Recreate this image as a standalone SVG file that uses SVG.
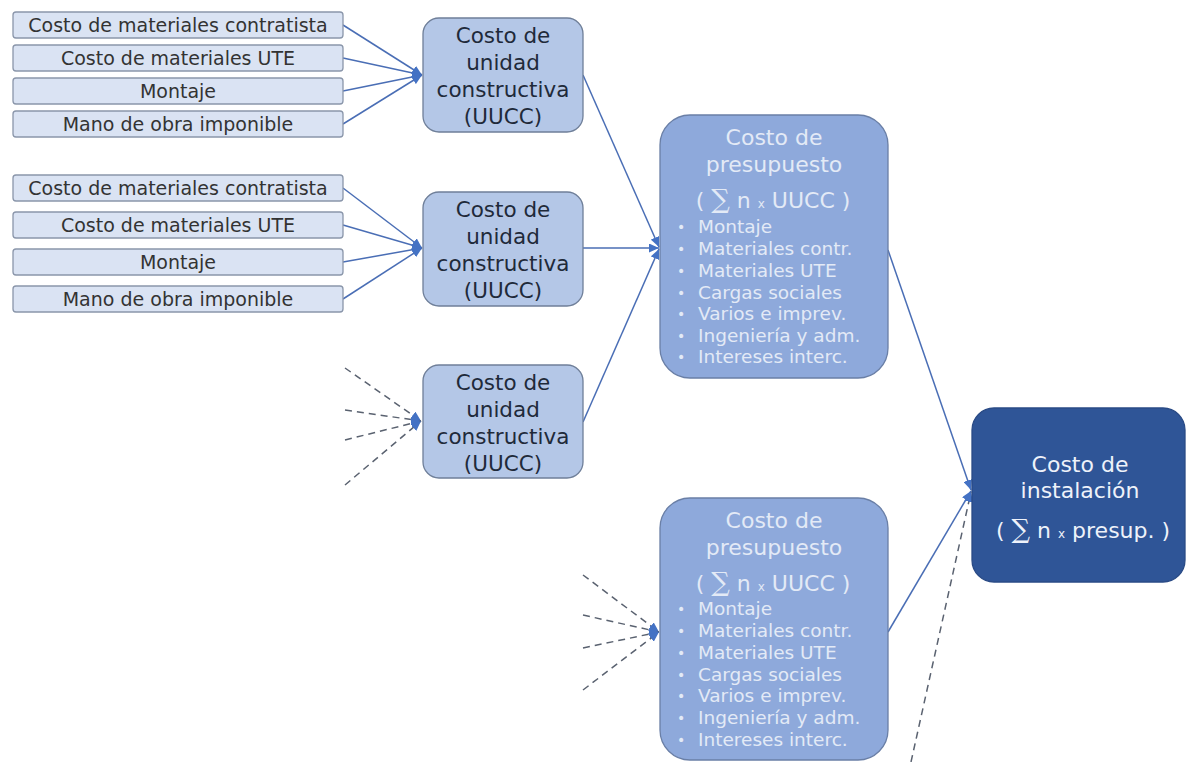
<svg xmlns="http://www.w3.org/2000/svg" width="1187" height="762" viewBox="0 0 1187 762">
<style>
text{font-family:"DejaVu Sans","Verdana",sans-serif;text-anchor:middle}
.sb rect{fill:#DAE3F3;stroke:#8A96AA;stroke-width:1.3}
.sb text{font-size:19px;fill:#333}
.uu rect{fill:#B4C7E7;stroke:#6F7F99;stroke-width:1.3}
.uu text{font-size:21.5px;fill:#1F2A3A}
.pr rect{fill:#8EA9DB;stroke:#6A7FA6;stroke-width:1.3}
.pr text{fill:#E3EAF6}
.pr .t{font-size:22px}
.pr .b{font-size:18.5px;text-anchor:start}
.pr .d{font-size:14px}
.fi rect{fill:#2F5597;stroke:#2A4B86;stroke-width:1.3}
.fi text{font-size:22px;fill:#EEF2FA}
.sig{font-family:"DejaVu Serif",serif;font-size:26px}
.sm{font-size:12px}
.c line{stroke:#4A6EB5;stroke-width:1.5;fill:none}
.c line.d{stroke:#5A6270;stroke-dasharray:7 5}
</style>
<defs>
<marker id="ah" markerUnits="userSpaceOnUse" markerWidth="11" markerHeight="9" refX="10" refY="4.5" orient="auto">
<path d="M0,0 L10,4.5 L0,9 z" fill="#4472C4"/>
</marker>
</defs>

<g class="c" id="connectors">
<line x1="343" y1="25" x2="422" y2="75" marker-end="url(#ah)"/>
<line x1="343" y1="58" x2="422" y2="75" marker-end="url(#ah)"/>
<line x1="343" y1="91" x2="422" y2="75" marker-end="url(#ah)"/>
<line x1="343" y1="124" x2="422" y2="75" marker-end="url(#ah)"/>
<line x1="343" y1="188" x2="422" y2="248" marker-end="url(#ah)"/>
<line x1="343" y1="225" x2="422" y2="248" marker-end="url(#ah)"/>
<line x1="343" y1="262" x2="422" y2="248" marker-end="url(#ah)"/>
<line x1="343" y1="299" x2="422" y2="248" marker-end="url(#ah)"/>
<line class="d" x1="345" y1="368" x2="421" y2="421" marker-end="url(#ah)"/>
<line class="d" x1="345" y1="410" x2="421" y2="421" marker-end="url(#ah)"/>
<line class="d" x1="345" y1="440" x2="421" y2="421" marker-end="url(#ah)"/>
<line class="d" x1="345" y1="485" x2="421" y2="421" marker-end="url(#ah)"/>
<line x1="583" y1="75" x2="659" y2="247" marker-end="url(#ah)"/>
<line x1="583" y1="248" x2="659" y2="248" marker-end="url(#ah)"/>
<line x1="583" y1="422" x2="659" y2="249" marker-end="url(#ah)"/>
<line class="d" x1="583" y1="575" x2="659" y2="632" marker-end="url(#ah)"/>
<line class="d" x1="583" y1="615" x2="659" y2="632" marker-end="url(#ah)"/>
<line class="d" x1="583" y1="648" x2="659" y2="632" marker-end="url(#ah)"/>
<line class="d" x1="583" y1="690" x2="659" y2="632" marker-end="url(#ah)"/>
<line x1="888" y1="250" x2="971" y2="490" marker-end="url(#ah)"/>
<line x1="888" y1="632" x2="971" y2="491" marker-end="url(#ah)"/>
<line class="d" x1="911" y1="762" x2="971" y2="492" marker-end="url(#ah)"/>
</g>

<g class="sb" id="in1a"><rect x="13" y="12" width="330" height="26" rx="3"/><text x="178" y="31.5">Costo de materiales contratista</text></g>
<g class="sb" id="in1b"><rect x="13" y="45" width="330" height="26" rx="3"/><text x="178" y="64.5">Costo de materiales UTE</text></g>
<g class="sb" id="in1c"><rect x="13" y="78" width="330" height="26" rx="3"/><text x="178" y="97.5">Montaje</text></g>
<g class="sb" id="in1d"><rect x="13" y="111" width="330" height="26" rx="3"/><text x="178" y="130.5">Mano de obra imponible</text></g>

<g class="sb" id="in2a"><rect x="13" y="175" width="330" height="26" rx="3"/><text x="178" y="194.5">Costo de materiales contratista</text></g>
<g class="sb" id="in2b"><rect x="13" y="212" width="330" height="26" rx="3"/><text x="178" y="231.5">Costo de materiales UTE</text></g>
<g class="sb" id="in2c"><rect x="13" y="249" width="330" height="26" rx="3"/><text x="178" y="268.5">Montaje</text></g>
<g class="sb" id="in2d"><rect x="13" y="286" width="330" height="26" rx="3"/><text x="178" y="305.5">Mano de obra imponible</text></g>

<g class="uu" id="uucc1"><rect x="423" y="18" width="160" height="114" rx="16"/>
<text x="503" y="43">Costo de</text><text x="503" y="70">unidad</text><text x="503" y="97">constructiva</text><text x="503" y="124">(UUCC)</text></g>
<g class="uu" id="uucc2"><rect x="423" y="192" width="160" height="114" rx="16"/>
<text x="503" y="217">Costo de</text><text x="503" y="244">unidad</text><text x="503" y="271">constructiva</text><text x="503" y="298">(UUCC)</text></g>
<g class="uu" id="uucc3"><rect x="423" y="365" width="160" height="113" rx="16"/>
<text x="503" y="390">Costo de</text><text x="503" y="417">unidad</text><text x="503" y="444">constructiva</text><text x="503" y="471">(UUCC)</text></g>

<g class="pr" id="presup1"><rect x="660" y="115" width="228" height="263" rx="30"/>
<text class="t" x="774" y="145">Costo de</text>
<text class="t" x="774" y="172">presupuesto</text>
<text class="t" x="773" y="208">( <tspan class="sig">∑</tspan> n <tspan class="sm">x</tspan> UUCC )</text>
<text class="b d" x="677" y="232">•</text><text class="b" x="698" y="233">Montaje</text>
<text class="b d" x="677" y="254">•</text><text class="b" x="698" y="255">Materiales contr.</text>
<text class="b d" x="677" y="276">•</text><text class="b" x="698" y="277">Materiales UTE</text>
<text class="b d" x="677" y="298">•</text><text class="b" x="698" y="299">Cargas sociales</text>
<text class="b d" x="677" y="319">•</text><text class="b" x="698" y="320">Varios e imprev.</text>
<text class="b d" x="677" y="341">•</text><text class="b" x="698" y="342">Ingeniería y adm.</text>
<text class="b d" x="677" y="362">•</text><text class="b" x="698" y="363">Intereses interc.</text>
</g>

<g class="pr" id="presup2"><rect x="660" y="498" width="228" height="262" rx="30"/>
<text class="t" x="774" y="528">Costo de</text>
<text class="t" x="774" y="555">presupuesto</text>
<text class="t" x="773" y="591">( <tspan class="sig">∑</tspan> n <tspan class="sm">x</tspan> UUCC )</text>
<text class="b d" x="677" y="614">•</text><text class="b" x="698" y="615">Montaje</text>
<text class="b d" x="677" y="636">•</text><text class="b" x="698" y="637">Materiales contr.</text>
<text class="b d" x="677" y="658">•</text><text class="b" x="698" y="659">Materiales UTE</text>
<text class="b d" x="677" y="680">•</text><text class="b" x="698" y="681">Cargas sociales</text>
<text class="b d" x="677" y="701">•</text><text class="b" x="698" y="702">Varios e imprev.</text>
<text class="b d" x="677" y="723">•</text><text class="b" x="698" y="724">Ingeniería y adm.</text>
<text class="b d" x="677" y="745">•</text><text class="b" x="698" y="746">Intereses interc.</text>
</g>

<g class="fi" id="instalacion"><rect x="972" y="408" width="213" height="174" rx="22"/>
<text x="1080" y="472">Costo de</text>
<text x="1080" y="498">instalación</text>
<text x="1083" y="538">( <tspan class="sig">∑</tspan> n <tspan class="sm">x</tspan> presup. )</text>
</g>
</svg>
